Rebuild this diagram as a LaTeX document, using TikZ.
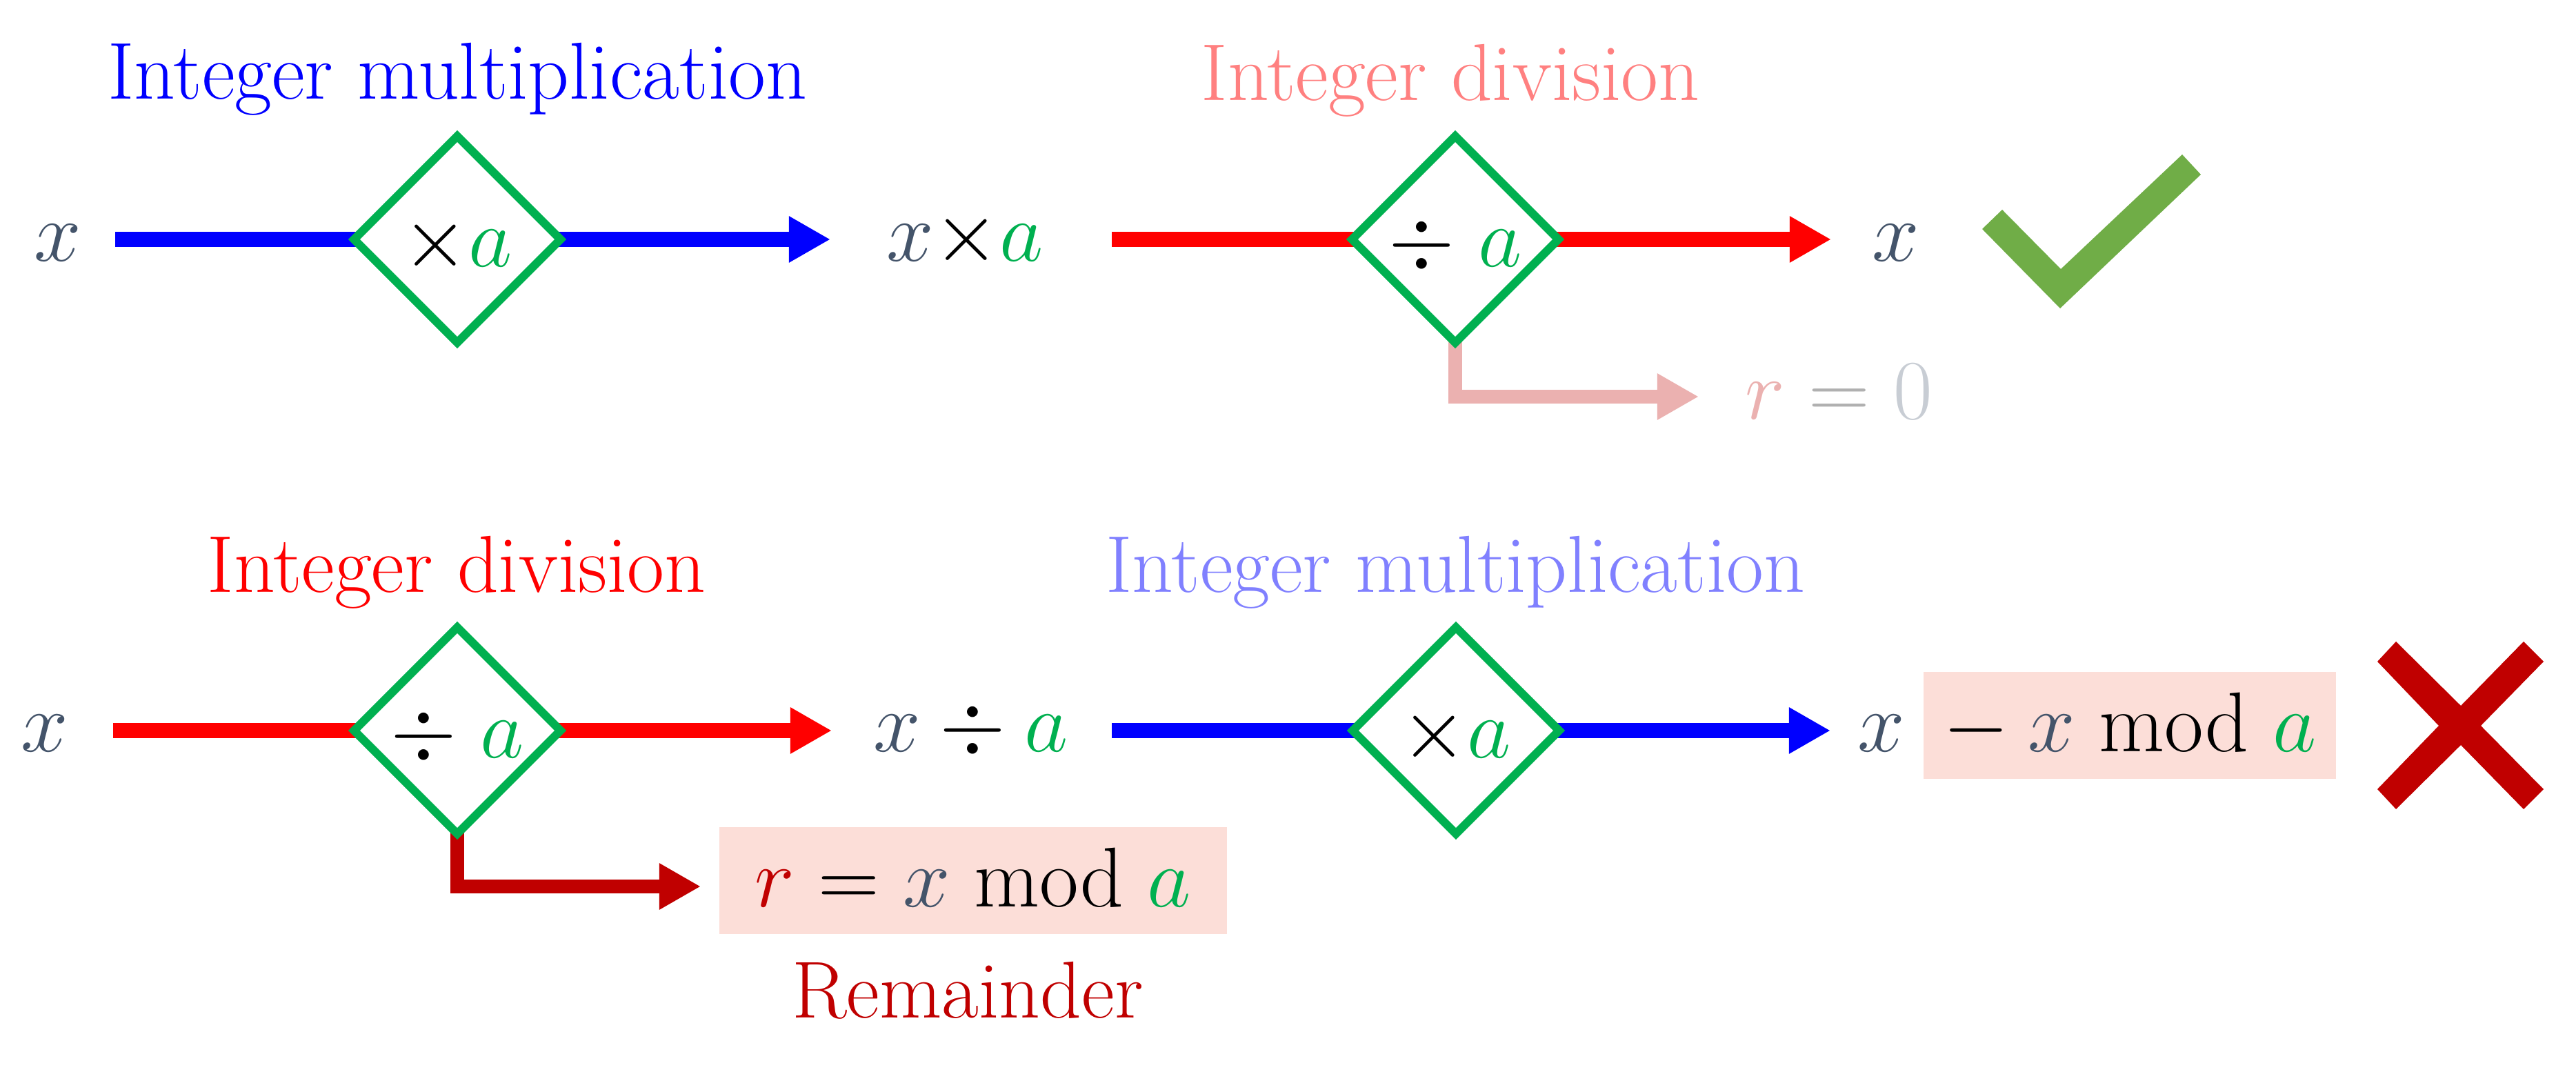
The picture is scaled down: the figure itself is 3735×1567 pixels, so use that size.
\RequirePackage{fix-cm}
\documentclass[tikz,border=0pt]{standalone}
\usetikzlibrary{shapes.geometric,arrows.meta}
\pgfdeclarelayer{background}
\pgfsetlayers{background,main}
\definecolor{slate}{HTML}{44546A}
\definecolor{agreen}{HTML}{00B050}
\definecolor{tblue}{HTML}{0000FF}
\definecolor{tred}{HTML}{FF0000}
\definecolor{lred}{HTML}{FF8080}
\definecolor{lblue}{HTML}{8080FF}
\definecolor{dred}{HTML}{C00000}
\definecolor{lpink}{HTML}{EBB1B0}
\definecolor{eqgray}{HTML}{B0B0B0}
\definecolor{zgray}{HTML}{C8CDD4}
\definecolor{pinkbox}{HTML}{FCDED8}
\definecolor{chk}{HTML}{70AD47}
\newcommand{\cx}{\textcolor{slate}{x}}
\newcommand{\ca}{\textcolor{agreen}{a}}
\tikzset{
  ttl/.style={font=\fontsize{33.3}{40}\selectfont, anchor=base, inner sep=0pt},
  mth/.style={font=\fontsize{35}{42}\selectfont, anchor=base, inner sep=0pt},
  opbox/.style={diamond, aspect=1, draw=agreen, line width=0.12cm, fill=white,
    minimum width=3.04cm, minimum height=3.04cm, inner sep=0pt,
    font=\fontsize{35}{42}\selectfont, text height=0.78cm, text depth=0cm},
  flow/.style={line width=0.21cm},
  tip/.style={-{Triangle[length=0.6cm,width=0.63cm]}},
  elbow/.style={line width=0.20cm, -{Triangle[length=0.6cm,width=0.63cm]}},
  resbox/.style={mth, fill=pinkbox, text height=1.15cm, text depth=0.40cm,
    inner ysep=0pt, inner xsep=0pt},
}
\begin{document}
\begin{tikzpicture}[x=0.01cm,y=-0.01cm]
\useasboundingbox (0,0) rectangle (3735,1567);

% ---------- top row ----------
\node[ttl, text=tblue] (t1) at (663,144) {Integer multiplication};
\node[ttl, text=lred] (t2) at (2103,146) {Integer division};

\node[mth] (xin1) at (84,379) {$\cx$};
\node[opbox] (d1) at (663,347) {${\times}\ca$};
\node[mth] (xa) at (1399,379) {$\cx{\times}\ca$};
\node[opbox] (d2) at (2110,347) {${\div}\;\ca$};
\node[mth] (xout1) at (2749,379) {$\cx$};
\node[mth] (r0) at (2666,608) {$\textcolor{lpink}{r}\mathrel{\textcolor{eqgray}{=}}\textcolor{zgray}{0}$};

\coordinate (s1) at (167,347);
\coordinate (e1) at (1204,347);
\coordinate (s2) at (1612,347);
\coordinate (e2) at (2655,347);
\coordinate (e3) at (2463,575);

% ---------- bottom row ----------
\node[ttl, text=tred] (t3) at (662,858) {Integer division};
\node[ttl, text=lblue] (t4) at (2110,858) {Integer multiplication};

\node[mth] (xin2) at (65,1089) {$\cx$};
\node[opbox] (d3) at (663,1059) {${\div}\;\ca$};
\node[mth] (xda) at (1408,1089) {$\cx\div\ca$};
\node[opbox] (d4) at (2111,1059) {${\times}\ca$};
\node[resbox, minimum width=5.97cm] (modbox) at (3088,1089) {$-\mskip\medmuskip\cx\bmod\ca$};
\node[mth, anchor=base east] (xout2) at ([xshift=-0.26cm]modbox.base west) {$\cx$};
\node[resbox, minimum width=7.35cm] (rem) at (1411,1314) {$\textcolor{dred}{r}=\cx\bmod\ca$};
\node[ttl, text=dred] (remt) at (1403,1475) {Remainder};

\coordinate (s3) at (164,1059);
\coordinate (e4) at (1206,1059);
\coordinate (s4) at (1612,1059);
\coordinate (e5) at (2654,1059);
\coordinate (e6) at (1016,1285);

\begin{pgfonlayer}{background}
  \draw[flow, tblue] (s1) -- (d1.center);
  \draw[flow, tblue, tip] (d1.center) -- (e1);
  \draw[flow, tred] (s2) -- (d2.center);
  \draw[flow, tred, tip] (d2.center) -- (e2);
  \draw[elbow, lpink] (d2.center) |- (e3);

  \draw[flow, tred] (s3) -- (d3.center);
  \draw[flow, tred, tip] (d3.center) -- (e4);
  \draw[flow, tblue] (s4) -- (d4.center);
  \draw[flow, tblue, tip] (d4.center) -- (e5);
  \draw[elbow, dred] (d3.center) |- (e6);
\end{pgfonlayer}

% check mark
\fill[chk] (2874,332) -- (2903,304) -- (2988,390) -- (3164,224) -- (3191,253) -- (2987,447) -- cycle;
% cross
\fill[dred] (3474,930) -- (3568,1023) -- (3659,930) -- (3688,959) -- (3597,1052)
  -- (3688,1144) -- (3659,1173) -- (3568,1080) -- (3474,1173) -- (3447,1144)
  -- (3536,1052) -- (3447,959) -- cycle;
\end{tikzpicture}
\end{document}
